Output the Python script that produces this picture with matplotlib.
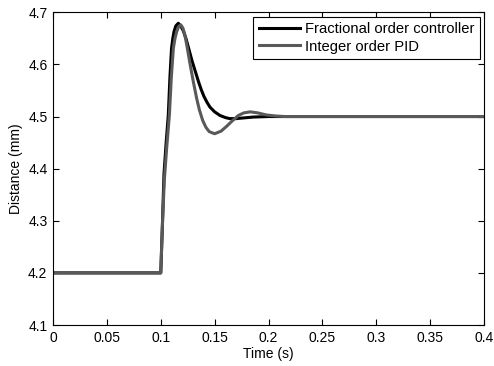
import matplotlib
matplotlib.use("Agg")
import matplotlib.pyplot as plt

plt.rcParams['font.family'] = ['Liberation Sans', 'DejaVu Sans']

# Fractional order controller (black)
t_frac = [0.0, 0.100, 0.1015, 0.103, 0.105, 0.107, 0.1085, 0.110, 0.1112, 0.1123,
          0.1140, 0.1163, 0.1185, 0.1210, 0.1235, 0.1260, 0.1290, 0.1320, 0.1350,
          0.1375, 0.1400, 0.1430, 0.1457, 0.1500, 0.1550, 0.1600, 0.1640, 0.1700,
          0.1750, 0.1860, 0.2000, 0.4000]
y_frac = [4.200, 4.200, 4.290, 4.390, 4.450, 4.503, 4.575, 4.631, 4.650, 4.663,
          4.674, 4.679, 4.674, 4.664, 4.649, 4.630, 4.607, 4.587, 4.567,
          4.552, 4.539, 4.527, 4.518, 4.509, 4.502, 4.498, 4.496, 4.4960,
          4.497, 4.499, 4.500, 4.500]

# Integer order PID (grey)
t_pid = [0.0, 0.100, 0.1015, 0.1033, 0.1055, 0.108, 0.1098, 0.1117, 0.1132, 0.1148,
         0.1165, 0.1185, 0.1205, 0.1225, 0.1245, 0.1270, 0.1302, 0.1333,
         0.1358, 0.1390, 0.1420, 0.1450, 0.1500, 0.1560, 0.1610, 0.1660, 0.1720,
         0.1770, 0.1830, 0.1900, 0.1980, 0.2070, 0.2150, 0.4000]
y_pid = [4.200, 4.200, 4.290, 4.378, 4.440, 4.503, 4.575, 4.631, 4.650, 4.663,
         4.672, 4.676, 4.670, 4.655, 4.633, 4.603, 4.567, 4.535,
         4.513, 4.492, 4.479, 4.471, 4.467, 4.472, 4.481, 4.491, 4.502,
         4.507, 4.509, 4.507, 4.503, 4.501, 4.500, 4.500]

x_ticks = [0, 0.05, 0.1, 0.15, 0.2, 0.25, 0.3, 0.35, 0.4]
x_tick_labels = ['0', '0.05', '0.1', '0.15', '0.2', '0.25', '0.3', '0.35', '0.4']
y_ticks = [4.1, 4.2, 4.3, 4.4, 4.5, 4.6, 4.7]
y_tick_labels = ['4.1', '4.2', '4.3', '4.4', '4.5', '4.6', '4.7']

fig = plt.figure(figsize=(4.94, 3.66), dpi=100)
ax = fig.add_axes([0.1073, 0.112, 0.8725, 0.8544])

ax.plot(t_frac, y_frac, color='black', lw=2.2, label='Fractional order controller',
        solid_joinstyle='round')
ax.plot(t_pid, y_pid, color='#595959', lw=2.2, label='Integer order PID',
        solid_joinstyle='round')

ax.set_xlim(0, 0.4)
ax.set_ylim(4.1, 4.7)
ax.set_xticks(x_ticks)
ax.set_xticklabels(x_tick_labels)
ax.set_yticks(y_ticks)
ax.set_yticklabels(y_tick_labels)
ax.tick_params(direction='in', length=4, width=0.8, top=True, right=True,
               labelsize=10, pad=4, colors='black')
for s in ax.spines.values():
    s.set_linewidth(0.8)
ax.set_xlabel('Time (s)', fontsize=10, labelpad=2)
ax.set_ylabel('Distance (mm)', fontsize=10, labelpad=4)

leg = ax.legend(loc='upper right', fontsize=10.6, frameon=True, fancybox=False,
                edgecolor='black', framealpha=1, handlelength=2.8,
                borderaxespad=0.3, borderpad=0.35, labelspacing=0.25,
                handletextpad=0.35)
leg.get_frame().set_linewidth(0.8)

fig.savefig('out.png', dpi=100)
